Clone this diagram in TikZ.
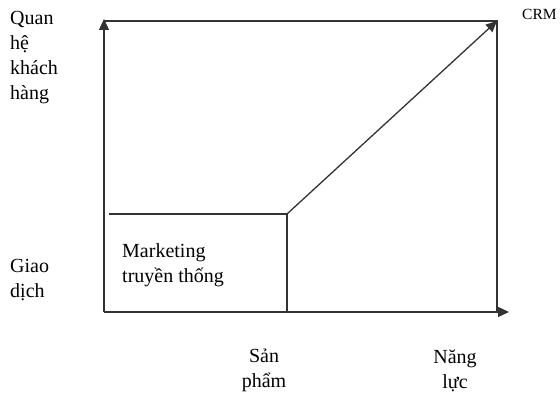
\documentclass[tikz,border=0pt]{standalone}
\usepackage{fontspec}
\setmainfont{Liberation Serif}
\usetikzlibrary{arrows.meta}

\begin{document}
\begin{tikzpicture}[x=1pt,y=-1pt,
  frame/.style={line width=1.3pt, draw=black!80},
  axis/.style={frame, -{Triangle[length=11pt,width=10pt]}},
  lbl/.style={font=\fontsize{20}{25}\selectfont, align=left, inner sep=0pt, anchor=base west},
]
\useasboundingbox (0,0) rectangle (560,393);

% corners of the chart
\coordinate (O) at (104,312);
\coordinate (Y) at (104,19);
\coordinate (X) at (509,312);
\coordinate (TL) at (104,21);
\coordinate (TR) at (497,21);
\coordinate (BR) at (497,312);
\coordinate (K) at (287,214);
\coordinate (KL) at (109,214);
\coordinate (KB) at (287,313);

\draw[axis] (O) -- (Y);
\draw[axis] (O) -- (X);
\draw[frame] (TL) -- (TR) -- (BR);
\draw[frame] (KL) -- (K) -- (KB);
\draw[axis] (K) -- (TR);

% labels (anchored at the last line)
\node[lbl] (quan) at (10,100) {Quan\\hệ\\khách\\hàng};
\node[lbl] (giao) at (10,297) {Giao\\dịch};
\node[lbl] (mkt) at (122,282) {Marketing\\truyền thống};
\node[lbl, align=center, anchor=base] (sp) at (264,387) {Sản\\phẩm};
\node[lbl, align=center, anchor=base] (nl) at (455,388) {Năng\\lực};
\node[font=\fontsize{15.5}{18}\selectfont, inner sep=0pt, anchor=base west] (crm) at (522,20) {CRM};
\end{tikzpicture}
\end{document}
